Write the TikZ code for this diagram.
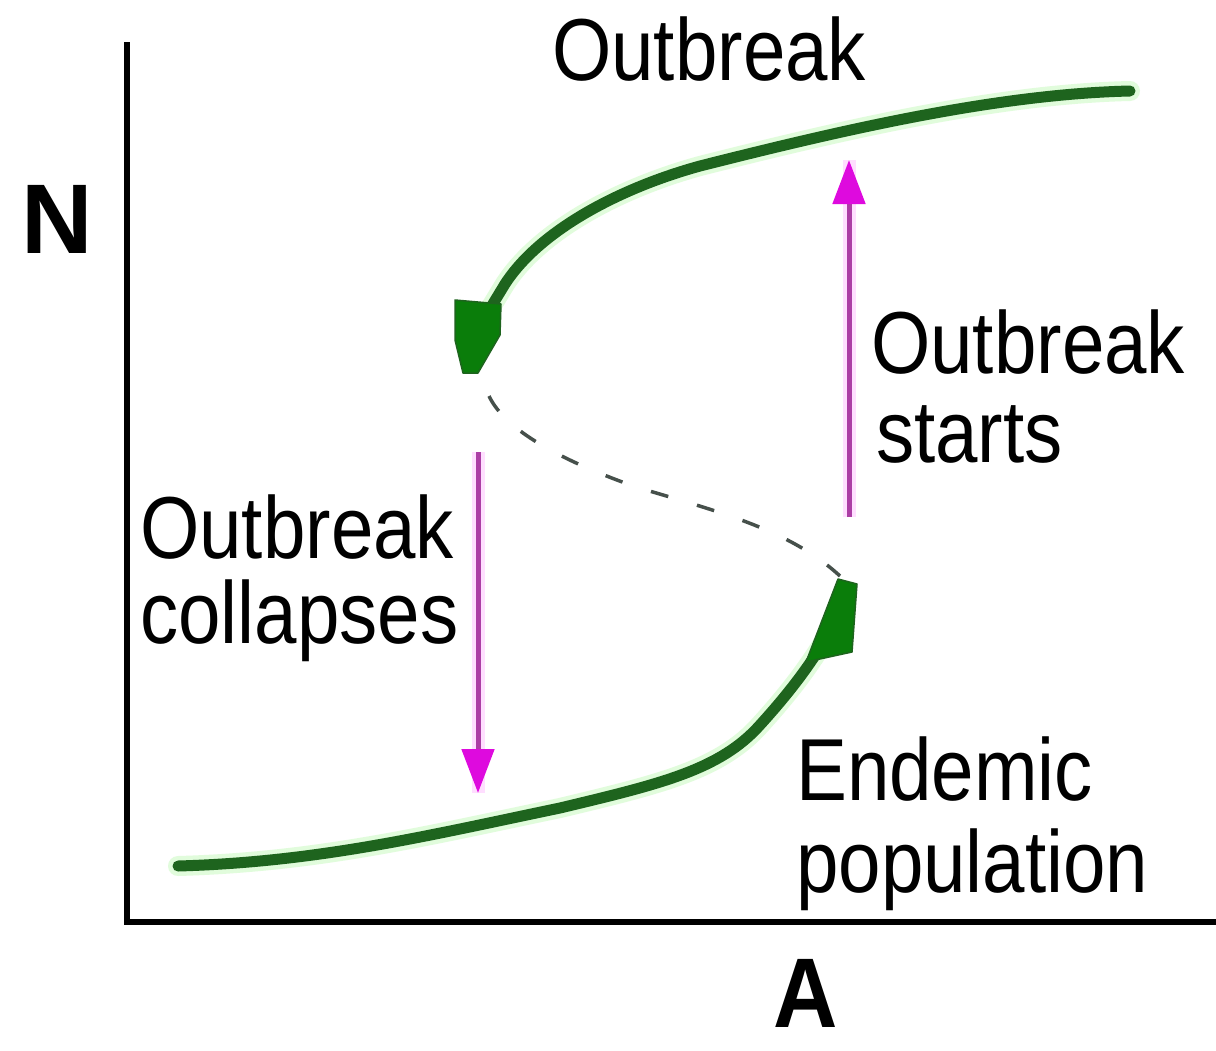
\documentclass[tikz,border=0pt]{standalone}
\usepackage{fontspec}
\setmainfont{Liberation Sans}
\usetikzlibrary{arrows.meta}
\definecolor{curvegreen}{RGB}{30,100,30}
\definecolor{headgreen}{RGB}{10,125,10}
\definecolor{halogreen}{RGB}{225,252,220}
\definecolor{mline}{RGB}{172,62,165}
\definecolor{mhead}{RGB}{222,10,222}
\definecolor{mhalo}{RGB}{255,222,255}
\definecolor{dashgray}{RGB}{70,80,75}
\newcommand{\sq}[1]{\scalebox{0.867}[1]{#1}}
\begin{document}
\begin{tikzpicture}[x=1pt,y=-1pt,
  lbl/.style={anchor=base west, inner sep=0pt, font=\fontsize{88}{96}\selectfont},
  axlbl/.style={anchor=base, inner sep=0pt, font=\fontsize{99}{110}\selectfont\bfseries},
  axisline/.style={line width=6pt, black, line join=miter},
  gcurve/.style={line width=11pt, curvegreen, line cap=round, line join=round},
  ghalo/.style={line width=20pt, halogreen, line cap=round, line join=round},
  ghead/.style={fill=headgreen, draw=curvegreen, line width=1.5pt, line join=round},
  mhalostyle/.style={line width=13pt, mhalo},
  marrow/.style={line width=5pt, mline, -{Triangle[length=44pt,width=32pt,color=mhead]}},
  dashcurve/.style={line width=3.5pt, dashgray, dash pattern=on 18pt off 30pt}
]
\useasboundingbox (0,0) rectangle (1216,1050);
\fill[white] (0,0) rectangle (1216,1050);

% axes
\coordinate (ytop) at (127,42);
\coordinate (xend) at (1216,922);
\draw[axisline] (ytop) |- (xend);

% axis labels
\node[axlbl] (N) at (57,253) {N};
\node[axlbl] (A) at (806,1027) {\scalebox{0.9}[1.0]{A}};

% curve anchor coordinates
\coordinate (tA) at (1130,91);
\coordinate (tB) at (700,166);
\coordinate (tC) at (505,284);
\coordinate (tD) at (488,312);
\coordinate (bA) at (178,866);
\coordinate (bB) at (560,808);
\coordinate (bC) at (760,725);
\coordinate (bD) at (826,638);

% halos
\draw[ghalo] (tA) .. controls (1000,94) and (850,128) .. (tB) .. controls (620,188) and (540,230) .. (tC) -- (tD);
\draw[ghalo] (bA) .. controls (320,862) and (430,835) .. (bB) .. controls (660,784) and (720,770) .. (bC) .. controls (790,692) and (810,665) .. (bD);

% green upper branch (outbreak) with arrowhead
\draw[gcurve] (tA) .. controls (1000,94) and (850,128) .. (tB) .. controls (620,188) and (540,230) .. (tC) -- (tD);
\coordinate (th1) at (455,300);
\coordinate (th2) at (501,304);
\coordinate (th3) at (500,335);
\coordinate (th4) at (478,373);
\coordinate (th5) at (463,373);
\coordinate (th6) at (455,340);
\filldraw[ghead] (th1) -- (th2) -- (th3) -- (th4) -- (th5) -- (th6) -- cycle;

% green lower branch (endemic) with arrowhead
\draw[gcurve] (bA) .. controls (320,862) and (430,835) .. (bB) .. controls (660,784) and (720,770) .. (bC) .. controls (790,692) and (810,665) .. (bD);
\coordinate (bh1) at (838,579);
\coordinate (bh2) at (857,584);
\coordinate (bh3) at (852,652);
\coordinate (bh4) at (806,662);
\filldraw[ghead] (bh1) -- (bh2) -- (bh3) -- (bh4) -- cycle;

% unstable branch (dashed)
\coordinate (dA) at (489,396);
\coordinate (dB) at (636,487);
\coordinate (dC) at (840,576);
\draw[dashcurve] (dA) .. controls (505,430) and (560,460) .. (dB) .. controls (720,512) and (790,530) .. (dC);

% magenta arrows
\coordinate (dn-s) at (478,452);
\coordinate (dn-e) at (478,793);
\coordinate (up-s) at (849,517);
\coordinate (up-e) at (849,160);
\draw[mhalostyle] (dn-s) -- (dn-e);
\draw[mhalostyle] (up-s) -- (up-e);
\draw[marrow] (dn-s) -- (dn-e);
\draw[marrow] (up-s) -- (up-e);

% labels
\node[lbl] (top) at (552,80) {\sq{Outbreak}};
\node[lbl] (st1) at (871,373) {\sq{Outbreak}};
\node[lbl] (st2) at (876,462) {\sq{starts}};
\node[lbl] (co1) at (140,558) {\sq{Outbreak}};
\node[lbl] (co2) at (140,643) {\sq{collapses}};
\node[lbl] (en1) at (796,800) {\sq{Endemic}};
\node[lbl] (en2) at (796,892) {\sq{population}};
\end{tikzpicture}
\end{document}
